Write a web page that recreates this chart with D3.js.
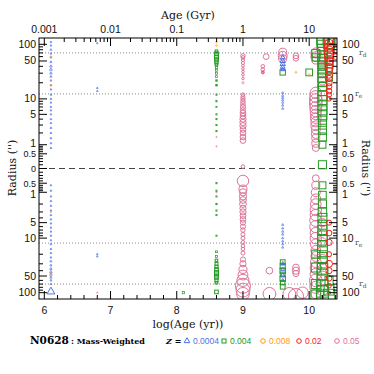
<!DOCTYPE html>
<html>
<head>
<meta charset="utf-8">
<script src="https://cdn.jsdelivr.net/npm/d3@7"></script>
<style>
	body{margin:0;background:#fff}
	svg{display:block}
</style>
</head>
<body>
<div id="fig"></div>
<script>
// [log(age), radius (positive = upper side, negative = lower side), mass weight %]
const z0004 = [
	[6.1,110,0.6],[6.1,95,0.6],[6.1,80,0.6],[6.1,68,0.6],[6.1,58,0.6],[6.1,48,0.8],[6.1,40,1.2],[6.1,35,1.4],[6.1,30,1.2],
	[6.1,26,0.8],[6.1,22,0.6],[6.1,18,0.6],[6.1,15,0.6],[6.1,12,0.6],[6.1,10,0.6],[6.1,8.5,0.6],[6.1,7,0.6],[6.1,6,0.6],
	[6.1,5,0.6],[6.1,4,0.6],[6.1,3.3,0.6],[6.1,2.6,0.6],[6.1,2,0.6],[6.1,1.5,0.6],[6.1,1.1,0.6],[6.1,0.8,0.6],
	[6.1,-0.6,0.6],[6.1,-0.9,0.6],[6.1,-1.3,0.6],[6.1,-1.7,0.6],[6.1,-2.2,0.6],[6.1,-2.8,0.6],[6.1,-3.5,0.6],[6.1,-4.3,0.6],
	[6.1,-5.2,0.6],[6.1,-6.3,0.6],[6.1,-7.5,0.6],[6.1,-9,0.6],[6.1,-11,0.6],[6.1,-13,0.6],[6.1,-16,0.6],[6.1,-19,0.6],
	[6.1,-23,0.6],[6.1,-27,0.8],[6.1,-32,0.8],[6.1,-37,1],[6.1,-42,1.2],[6.1,-47,1.2],[6.1,-53,1],[6.1,-60,0.8],[6.1,-70,0.6],
	[6.1,-96,11],
	[6.8,105,0.5],[6.8,16,0.5],[6.8,14,0.5],[6.8,-22,0.5],[6.8,-20,0.5],
	[9.6,58,4],[9.6,50,5],[9.6,44,5],[9.6,39,4],[9.6,35,3],
	[9.6,13,0.8],[9.6,11.5,0.8],[9.6,10.5,0.8],[9.6,9.5,0.8],[9.6,8.5,0.8],[9.6,7.5,0.8],[9.6,6.5,0.8],
	[9.6,-5.5,0.8],[9.6,-6.5,0.8],[9.6,-7.5,0.8],[9.6,-8.5,0.8],[9.6,-10,0.8],[9.6,-11.5,0.8],[9.6,-13,0.8],[9.6,-15,0.8],
	[9.6,-30,3],[9.6,-38,3],[9.6,-48,3],[9.6,-60,2]
];
const z004 = [
	[8.1,-100,1.5],
	[8.6,75,2],[8.6,68,4],[8.6,62,5],[8.6,57,5],[8.6,52,4],[8.6,47,3],[8.6,43,2],[8.6,38,1.5],[8.6,34,1.2],[8.6,30,1.2],
	[8.6,26,1],[8.6,22,0.8],[8.6,18,0.8],[8.6,12,0.5],[8.6,9,0.5],[8.6,7,0.5],[8.6,5,0.5],[8.6,4,0.5],[8.6,3,0.5],[8.6,2.2,0.5],
	[8.6,-0.5,0.5],[8.6,-0.9,0.5],[8.6,-1.3,0.5],[8.6,-2,0.5],[8.6,-2.8,0.5],[8.6,-3.5,0.5],[8.6,-9,0.5],
	[8.6,-18,1],[8.6,-22,1.5],[8.6,-26,2],[8.6,-30,2.5],[8.6,-34,3],[8.6,-38,4],[8.6,-43,5],[8.6,-48,5],[8.6,-53,4],
	[8.6,-60,3],[8.6,-66,2],[8.6,-97,4],
	[9.6,31,9],
	[9.6,-28,7],[9.6,-33,8],[9.6,-40,9],[9.6,-47,7],[9.6,-56,9],[9.6,-66,6],[9.6,-78,7],
	[10.0,31,14],
	[10.1,68,20],[10.1,58,16],
	[10.1,-20,20],[10.1,-35,25],[10.1,-70,25],[10.1,-110,30],
	[10.2,125,40],[10.2,110,35],[10.2,95,35],[10.2,82,30],[10.2,72,30],[10.2,62,30],[10.2,54,25],[10.2,47,25],[10.2,41,25],
	[10.2,35,25],[10.2,30,25],[10.2,25,25],[10.2,21,25],[10.2,17,20],[10.2,14,25],[10.2,11.5,25],[10.2,9.5,25],[10.2,7.5,25],
	[10.2,6,25],[10.2,4.8,25],[10.2,3.8,20],[10.2,3,20],[10.2,2.3,20],[10.2,1.6,20],[10.2,1,15],[10.2,0.1,20],
	[10.2,-0.6,15],[10.2,-1.2,18],[10.2,-2,20],[10.2,-3,22],[10.2,-4,25],[10.2,-5.5,25],[10.2,-7,25],[10.2,-9,28],
	[10.2,-11,28],[10.2,-14,30],[10.2,-18,30],[10.2,-23,30],[10.2,-29,30],[10.2,-37,35],[10.2,-47,35],[10.2,-60,35],
	[10.2,-75,40],[10.2,-95,40],[10.2,-115,45],
	[10.3,125,45],[10.3,105,35],[10.3,85,30],[10.3,68,25],[10.3,50,20],[10.3,36,15],[10.3,25,15],
	[10.3,-60,20],[10.3,-90,30],[10.3,-110,40]
];
const z008 = [
	[6.1,60,0.8],[6.1,18,0.8],[6.1,-3,0.6],[6.1,-45,0.8],
	[8.6,110,0.8],[8.6,95,0.8],
	[9.8,31,1],[10.0,28,1.5]
];
const z02 = [
	[9.3,31,1],
	[10.3,118,25],[10.3,100,30],[10.3,88,25],[10.3,76,30],[10.3,66,25],[10.3,58,25],[10.3,50,20],[10.3,44,20],
	[10.3,38,20],[10.3,33,15],[10.3,28,15],[10.3,24,12],[10.3,20,12],[10.3,17,10],[10.3,14,10],[10.3,12,8],[10.3,10,6],
	[10.4,110,15],[10.4,80,15],[10.4,60,10],
	[10.3,-5,8],[10.3,-8,10],[10.3,-12,12],[10.3,-20,8],[10.3,-30,15],[10.3,-40,12],[10.3,-55,10],[10.3,-75,6],[10.3,-100,3]
];
const z05 = [
	[6.8,-100,0.5],
	[8.6,1.6,0.5],[8.6,0.9,0.5],[8.6,-1,0.5],[8.6,-2,0.5],
	[9.0,62,6],[9.0,58,4],[9.0,52,3],[9.0,46,3],[9.0,41,2.5],[9.0,36,2],[9.0,32,2],[9.0,28,2],[9.0,24,2],[9.0,20,1.5],
	[9.0,12,4],[9.0,11,5],[9.0,10,6],[9.0,9,6],[9.0,8,7],[9.0,7,8],[9.0,6,9],[9.0,5.3,10],[9.0,4.6,10],[9.0,4,12],
	[9.0,3.4,12],[9.0,2.9,12],[9.0,2.4,10],[9.0,2,10],[9.0,1.6,10],[9.0,1.3,10],[9.0,0.05,4],
	[9.0,-0.4,40],[9.0,-0.8,20],[9.0,-1,16],[9.0,-1.3,16],[9.0,-1.6,14],[9.0,-2,14],[9.0,-2.5,12],[9.0,-3,12],[9.0,-3.6,10],
	[9.0,-4.3,10],[9.0,-5,8],[9.0,-6,8],[9.0,-7,6],[9.0,-8.5,5],[9.0,-10,5],[9.0,-12,4],[9.0,-14,4],[9.0,-16,4],[9.0,-19,5],
	[9.0,-25,8],[9.0,-30,12],[9.0,-38,20],[9.0,-48,30],[9.0,-60,45],[9.0,-75,70],[9.0,-90,60],[9.0,-105,50],
	[9.3,40,4],[9.3,35,4],[9.3,31,3],[9.35,60,10],[9.4,-40,14],[9.4,-105,50],
	[9.6,72,20],[9.6,62,25],[9.6,55,20],
	[9.8,62,10],[9.8,56,10],
	[9.8,-35,14],[9.8,-40,16],[9.8,-45,12],
	[9.7,-105,50],[9.8,-115,70],[9.9,-100,40],
	[10.1,70,30],[10.1,60,30],[10.1,52,20],
	[10.1,13,40],[10.1,11,45],[10.1,9.5,50],[10.1,8,50],[10.1,6.8,45],[10.1,5.8,40],[10.1,5,35],[10.1,4.2,35],[10.1,3.5,30],
	[10.1,2.9,30],[10.1,2.4,25],[10.1,1.9,25],[10.1,1.5,20],[10.1,1.1,20],[10.1,0.8,15],
	[10.2,40,20],[10.2,30,25],[10.2,22,25],[10.2,17,30],
	[10.1,-0.3,15],[10.1,-0.6,20],[10.1,-1,25],[10.1,-1.5,30],[10.1,-2,35],[10.1,-2.7,40],[10.1,-3.5,40],[10.1,-4.5,45],
	[10.1,-6,45],[10.1,-8,40],[10.1,-10,40],[10.1,-13,35],[10.1,-17,30],[10.1,-22,30],[10.1,-28,35],[10.1,-36,40],
	[10.1,-46,40],[10.1,-60,50],[10.1,-80,45],[10.1,-105,30],
	[10.2,-5,20],[10.2,-12,25],[10.2,-25,30],[10.2,-50,30],[10.2,-90,40]
];

const zLabels = ["0.0004","0.004","0.008","0.02","0.05"];
const gyrLabels = ["0.001","0.01","0.1","1","10"];
const logTicks = [6,7,8,9,10];
const radiusTicks = [0,0.5,1,5,10,50,100];
const r_e = 12.4, r_d = 70;

const W = 374, H = 374;
const colors = {z0004:"#4d72e3", z004:"#239a23", z008:"#ff9a10", z02:"#ff1a1a", z05:"#dd7399"};

const X = d3.scaleLinear().domain([5.92,10.42]).range([39,337]);
const Y = d3.scaleSymlog().constant(0.6).domain([-130,130]).range([299,38]);
const S = d3.scaleSqrt().domain([0,100]).range([0,9]);

const svg = d3.select("#fig").append("svg")
	.attr("width",W).attr("height",H)
	.style("font-family","'Liberation Sans',sans-serif");

svg.append("defs").append("clipPath").attr("id","clip")
	.append("rect").attr("x",39).attr("y",38).attr("width",298).attr("height",261);

const plot = svg.append("g").attr("clip-path","url(#clip)");

// reference lines
[r_e,r_d,-r_e,-r_d].forEach(function(r){
	plot.append("line")
		.attr("x1",39).attr("x2",337).attr("y1",Y(r)).attr("y2",Y(r))
		.style("stroke","#888").style("stroke-width",1).style("stroke-dasharray","1,2")
})
plot.append("line")
	.attr("x1",39).attr("x2",337).attr("y1",Y(0)).attr("y2",Y(0))
	.style("stroke","#444").style("stroke-width",1).style("stroke-dasharray","6,4")

function sw(d){return S(d[2])<1.2 ? 0.7 : 1}

function circles(data,col){
	plot.append("g").selectAll("circle").data(data).enter().append("circle")
		.attr("cx",d=>X(d[0])).attr("cy",d=>Y(d[1]))
		.attr("r",d=>S(d[2]))
		.style("fill","none").style("stroke",col).style("stroke-width",sw)
}
function squares(data,col){
	plot.append("g").selectAll("rect").data(data).enter().append("rect")
		.attr("x",d=>X(d[0])-S(d[2])).attr("y",d=>Y(d[1])-S(d[2]))
		.attr("width",d=>2*S(d[2])).attr("height",d=>2*S(d[2]))
		.style("fill","none").style("stroke",col).style("stroke-width",sw)
}
function triangles(data,col){
	plot.append("g").selectAll("path").data(data).enter().append("path")
		.attr("transform",d=>"translate("+X(d[0])+","+Y(d[1])+")")
		.attr("d",d=>d3.symbol().type(d3.symbolTriangle).size(Math.pow(2*S(d[2]),2)*0.75)())
		.style("fill","none").style("stroke",col).style("stroke-width",sw)
}

circles(z05,colors.z05);
squares(z004,colors.z004);
triangles(z0004,colors.z0004);
circles(z008,colors.z008);
circles(z02,colors.z02);

// frame
svg.append("rect").attr("x",39).attr("y",38).attr("width",298).attr("height",261)
	.style("fill","none").style("stroke","black").style("stroke-width",1)

// bottom ticks
const ax = svg.append("g").style("stroke","black").style("stroke-width",1);
d3.range(6,10.41,0.2).forEach(function(v){
	const major = Math.abs(v-Math.round(v))<1e-6;
	ax.append("line").attr("x1",X(v)).attr("x2",X(v)).attr("y1",299).attr("y2",299-(major?8:4))
})
// top ticks (Gyr, log spaced)
for(let k=-3;k<=1;k++){
	for(let m=1;m<=9;m++){
		const v = Math.log10(m*Math.pow(10,k))+9;
		if(v>10.42) continue;
		ax.append("line").attr("x1",X(v)).attr("x2",X(v)).attr("y1",38).attr("y2",38+(m==1?8:4))
	}
}
// radius ticks
const minor = [];
[-1,0,1,2].forEach(function(k){
	for(let m=1;m<=9;m++){
		const v = m*Math.pow(10,k);
		if(v>130 || radiusTicks.indexOf(+v.toFixed(3))>=0) continue;
		minor.push(v)
	}
})
const allR = [];
radiusTicks.forEach(v=>{allR.push([v,8]); if(v>0) allR.push([-v,8])});
minor.forEach(v=>{allR.push([v,4]); allR.push([-v,4])});
allR.forEach(function(t){
	ax.append("line").attr("x1",39).attr("x2",39+t[1]).attr("y1",Y(t[0])).attr("y2",Y(t[0]))
	ax.append("line").attr("x1",337).attr("x2",337-t[1]).attr("y1",Y(t[0])).attr("y2",Y(t[0]))
})

// tick labels
const lab = svg.append("g").style("font-size","10.5px").style("fill","#111");
logTicks.forEach(function(v){
	lab.append("text").attr("x",X(v)).attr("y",314).attr("text-anchor","middle").text(v)
})
gyrLabels.forEach(function(s,i){
	lab.append("text").attr("x",X(6+i)).attr("y",33).attr("text-anchor","middle").text(s)
})
radiusTicks.forEach(function(v){
	const ys = v>0 ? [Y(v),Y(-v)] : [Y(0)];
	const small = v<1;
	ys.forEach(function(y,j){
		// labels near the centre are squeezed together, as in the original
		const dy = v==1 ? (j==0 ? 2 : 6) : 3.5;
		[[36,"end"],[342,"start"]].forEach(function(p){
			lab.append("text").attr("x",p[0]).attr("y",y+dy).attr("text-anchor",p[1])
				.style("font-size",small?"9px":"10.5px").text(v)
		})
	})
})
// r_e / r_d marks
const rl = svg.append("g").style("font-family","'DejaVu Serif',serif").style("font-size","8px").style("fill","#555");
[[r_e,"e",355],[-r_e,"e",355],[r_d,"d",359],[-r_d,"d",359]].forEach(function(t){
	const tx = rl.append("text").attr("x",t[2]).attr("y",Y(t[0])+2);
	tx.append("tspan").text("r");
	tx.append("tspan").attr("dy",2).style("font-size","6px").text(t[1]);
})

// titles
const tt = svg.append("g").style("font-family","'DejaVu Serif',serif").style("font-size","11px").style("fill","#111");
tt.append("text").attr("x",188).attr("y",19).attr("text-anchor","middle").text("Age (Gyr)")
tt.append("text").attr("x",188).attr("y",328).attr("text-anchor","middle").text("log(Age (yr))")
tt.append("text").attr("transform","translate(16,168) rotate(-90)").attr("text-anchor","middle").text("Radius ('')")
tt.append("text").attr("transform","translate(362,168) rotate(90)").attr("text-anchor","middle").text("Radius ('')")

// legend
const lg = svg.append("g");
lg.append("text").attr("x",30).attr("y",344)
	.style("font-family","'DejaVu Serif',serif").style("font-weight","bold").style("font-size","10.5px")
	.text("N0628")
lg.append("text").attr("x",71).attr("y",344)
	.style("font-family","'DejaVu Serif',serif").style("font-weight","bold").style("font-size","8px")
	.text(": Mass-Weighted")
lg.append("text").attr("x",166).attr("y",344)
	.style("font-family","'DejaVu Serif',serif").style("font-weight","bold").style("font-style","italic").style("font-size","8px")
	.text("Z =")
const keys = ["z0004","z004","z008","z02","z05"];
const symX = [187,224,263,299,337];
keys.forEach(function(k,i){
	const c = colors[k], x = symX[i], y = 341;
	if(i==0){
		lg.append("path").attr("transform","translate("+x+","+y+")")
			.attr("d",d3.symbol().type(d3.symbolTriangle).size(14)())
			.style("fill","none").style("stroke",c)
	}else if(i==1){
		lg.append("rect").attr("x",x-2).attr("y",y-2).attr("width",4).attr("height",4)
			.style("fill","none").style("stroke",c)
	}else{
		lg.append("circle").attr("cx",x).attr("cy",y).attr("r",2.3)
			.style("fill","none").style("stroke",c)
	}
	lg.append("text").attr("x",x+6).attr("y",344).style("font-size","8.5px").style("fill",c).text(zLabels[i])
})
</script>
</body>
</html>
